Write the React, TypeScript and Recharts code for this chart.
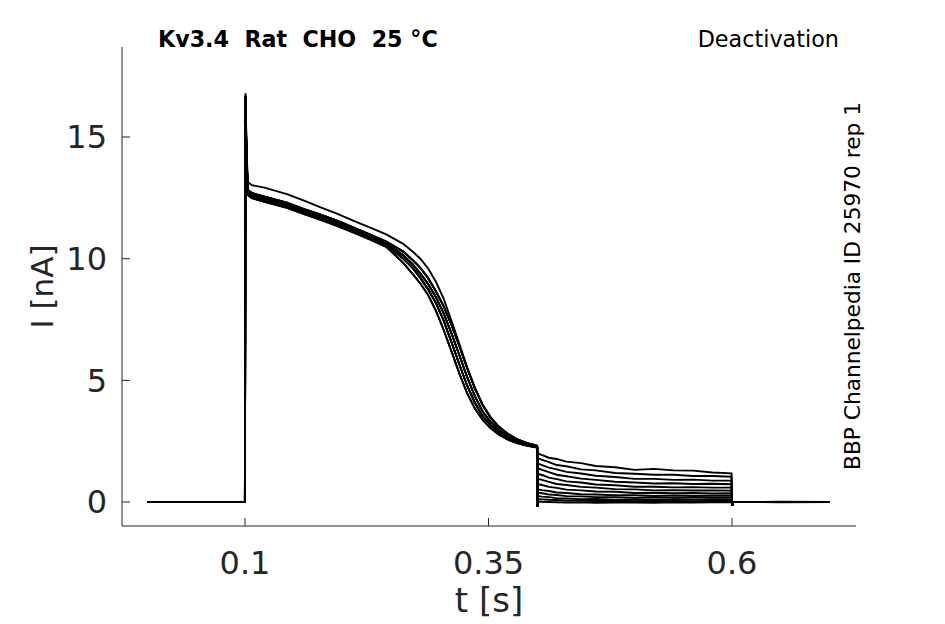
import React from 'react';
import { LineChart, Line, XAxis, YAxis, Label } from 'recharts';

// time grid (s) for the pre-pulse + activating step, shared by all sweeps
const timeActivation = [
  0, 0.0999, 0.1005, 0.1012, 0.102, 0.103, 0.107, 0.12, 0.143, 0.16, 0.177, 0.195, 0.211, 0.228, 0.245,
  0.262, 0.272, 0.28, 0.288, 0.296, 0.304, 0.312, 0.32, 0.328, 0.336, 0.344, 0.352, 0.36, 0.37, 0.38,
  0.39, 0.3996,
];

// current (nA) during activation: one trace sits above the rest, the others form a tight bundle
const activationUpper = [
  0, 0, 16.8, 15.3, 14.0, 13.15, 13.02, 12.92, 12.65, 12.4, 12.12, 11.84, 11.56, 11.29, 11.0, 10.62,
  10.3, 10.0, 9.6, 9.05, 8.35, 7.45, 6.5, 5.55, 4.7, 4.0, 3.5, 3.12, 2.8, 2.57, 2.42, 2.32,
];
const activationA = [
  0, 0, 16.7, 15.0, 13.8, 12.82, 12.7, 12.55, 12.3, 12.05, 11.82, 11.55, 11.29, 11.0, 10.7, 10.3,
  9.95, 9.62, 9.2, 8.66, 8.04, 7.28, 6.41, 5.51, 4.67, 3.98, 3.47, 3.11, 2.79, 2.56, 2.41, 2.31,
];
const activationB = [
  0, 0, 16.6, 14.8, 13.6, 12.75, 12.63, 12.48, 12.23, 11.98, 11.75, 11.48, 11.22, 10.93, 10.63, 10.15,
  9.78, 9.39, 8.96, 8.42, 7.75, 6.93, 6.04, 5.14, 4.35, 3.72, 3.29, 2.98, 2.69, 2.5, 2.37, 2.28,
];
const activationC = [
  0, 0, 16.5, 14.7, 13.5, 12.68, 12.56, 12.41, 12.16, 11.91, 11.68, 11.41, 11.15, 10.86, 10.56, 10.02,
  9.62, 9.21, 8.74, 8.18, 7.45, 6.57, 5.66, 4.79, 4.08, 3.53, 3.16, 2.88, 2.63, 2.45, 2.33, 2.26,
];
const activationD = [
  0, 0, 16.7, 14.6, 13.4, 12.61, 12.49, 12.34, 12.09, 11.84, 11.61, 11.34, 11.08, 10.79, 10.49, 9.85,
  9.38, 8.98, 8.51, 7.86, 7.07, 6.19, 5.29, 4.48, 3.84, 3.37, 3.04, 2.79, 2.56, 2.41, 2.31, 2.24,
];

// time grid (s) for the deactivating step and return to holding
const timeTail = [
  0.4, 0.4003, 0.4008, 0.405, 0.412, 0.42, 0.43, 0.445, 0.46, 0.48, 0.5, 0.52, 0.54, 0.56, 0.58, 0.5995,
  0.6002, 0.601, 0.65, 0.7,
];

// tail currents (nA), one per test voltage
const tail01 = [2.25, -0.18, 2.0, 1.93, 1.82, 1.77, 1.66, 1.6, 1.48, 1.43, 1.32, 1.36, 1.3, 1.29, 1.21, 1.18, -0.15, 0, 0.01, 0];
const tail02 = [2.25, -0.18, 1.8, 1.73, 1.64, 1.52, 1.47, 1.34, 1.3, 1.19, 1.16, 1.12, 1.12, 1.07, 1.07, 1.04, -0.15, 0, 0, 0];
const tail03 = [2.25, -0.18, 1.58, 1.52, 1.41, 1.34, 1.24, 1.17, 1.08, 1.03, 0.95, 0.95, 0.91, 0.92, 0.88, 0.88, -0.15, 0, 0, 0];
const tail04 = [2.25, -0.18, 1.38, 1.32, 1.23, 1.12, 1.06, 0.96, 0.91, 0.83, 0.8, 0.76, 0.77, 0.74, 0.75, 0.73, -0.15, 0, -0.01, 0];
const tail05 = [2.25, -0.18, 1.16, 1.11, 1.0, 0.94, 0.85, 0.8, 0.72, 0.69, 0.63, 0.63, 0.6, 0.61, 0.59, 0.59, -0.15, 0, 0, 0];
const tail06 = [2.25, -0.18, 0.95, 0.91, 0.83, 0.74, 0.7, 0.62, 0.59, 0.53, 0.52, 0.48, 0.49, 0.47, 0.48, 0.47, -0.15, 0, 0, 0];
const tail07 = [2.25, -0.18, 0.73, 0.7, 0.62, 0.58, 0.51, 0.48, 0.43, 0.42, 0.37, 0.38, 0.36, 0.37, 0.35, 0.36, -0.15, 0, 0, 0];
const tail08 = [2.25, -0.18, 0.52, 0.49, 0.45, 0.39, 0.37, 0.32, 0.31, 0.28, 0.28, 0.25, 0.27, 0.25, 0.26, 0.26, -0.15, 0, 0, 0];
const tail09 = [2.25, -0.18, 0.38, 0.36, 0.31, 0.29, 0.24, 0.23, 0.2, 0.2, 0.17, 0.19, 0.17, 0.18, 0.18, 0.18, -0.15, 0, 0, 0];
const tail10 = [2.25, -0.18, 0.24, 0.22, 0.2, 0.16, 0.15, 0.12, 0.13, 0.1, 0.11, 0.09, 0.11, 0.1, 0.12, 0.11, -0.15, 0, 0, 0];
const tail11 = [2.25, -0.18, 0.12, 0.11, 0.09, 0.08, 0.06, 0.06, 0.04, 0.05, 0.03, 0.05, 0.04, 0.03, 0.05, 0.04, -0.15, 0, 0, 0];
const tail12 = [2.25, -0.18, 0.02, 0.01, 0, -0.01, -0.02, -0.01, -0.03, -0.02, -0.02, -0.03, -0.01, -0.02, -0.01, -0.01, -0.15, 0, 0, 0];

const xTicks = [0.1, 0.35, 0.6];
const yTicks = [0, 5, 10, 15];

const tails = [tail01, tail02, tail03, tail04, tail05, tail06, tail07, tail08, tail09, tail10, tail11, tail12];
const activations = [
  activationUpper, activationA, activationB, activationC, activationD, activationA,
  activationB, activationC, activationD, activationA, activationB, activationC,
];

const sweeps = tails.map((tail, k) => [
  ...timeActivation.map((t, j) => ({ t, i: activations[k][j] })),
  ...timeTail.map((t, j) => ({ t, i: tail[j] })),
]);

const FONT = 'DejaVu Sans';
const INK = '#262626';

function XTick({ x, y, payload }: any) {
  return (
    <text x={x} y={y} dy="0.71em" textAnchor="middle" fontFamily={FONT} fontSize={32} fill={INK}>
      {payload.value}
    </text>
  );
}

function YTick({ x, y, payload }: any) {
  return (
    <text x={x} y={y} dy="0.355em" textAnchor="end" fontFamily={FONT} fontSize={32} fill={INK}>
      {payload.value}
    </text>
  );
}

export default function App() {
  return (
    <div style={{ position: 'absolute', left: 0, top: 0, width: 945, height: 624, background: '#fff' }}>
      <LineChart width={945} height={624} margin={{ top: 47, right: 89, bottom: 0, left: 0 }}>
        <XAxis
          type="number"
          dataKey="t"
          domain={[-0.0263, 0.7273]}
          ticks={xTicks}
          interval={0}
          allowDataOverflow
          height={98}
          tickSize={-8}
          tickMargin={33}
          stroke={INK}
          tick={<XTick />}
        >
          <Label
            value="t [s]"
            position="insideBottom"
            offset={12}
            style={{ fontFamily: FONT, fontSize: 34, fill: INK }}
          />
        </XAxis>
        <YAxis
          type="number"
          domain={[-0.986, 18.7]}
          ticks={yTicks}
          interval={0}
          allowDataOverflow
          width={122}
          tickSize={-8}
          tickMargin={23}
          stroke={INK}
          tick={<YTick />}
        >
          <Label
            value="I [nA]"
            angle={-90}
            position="insideLeft"
            offset={42}
            style={{ fontFamily: FONT, fontSize: 31, fill: INK, textAnchor: 'middle' }}
          />
        </YAxis>
        {sweeps.map((d, k) => (
          <Line
            key={k}
            data={d}
            dataKey="i"
            type="linear"
            stroke="#000"
            strokeWidth={1.9}
            dot={false}
            activeDot={false}
            isAnimationActive={false}
          />
        ))}
      </LineChart>
      <svg
        width={945}
        height={624}
        style={{ position: 'absolute', left: 0, top: 0, pointerEvents: 'none' }}
      >
        <text x={158} y={47} fontFamily={FONT} fontSize={22.2} fontWeight="bold" fill="#000" style={{ whiteSpace: 'pre' }}>
          {'Kv3.4  Rat  CHO  25 °C'}
        </text>
        <text x={839} y={47} textAnchor="end" fontFamily={FONT} fontSize={22.3} fill="#000">
          Deactivation
        </text>
        <text
          x={0}
          y={0}
          transform="translate(860 286) rotate(-90)"
          textAnchor="middle"
          fontFamily={FONT}
          fontSize={21.7}
          fill="#000"
        >
          BBP Channelpedia ID 25970 rep 1
        </text>
      </svg>
    </div>
  );
}
